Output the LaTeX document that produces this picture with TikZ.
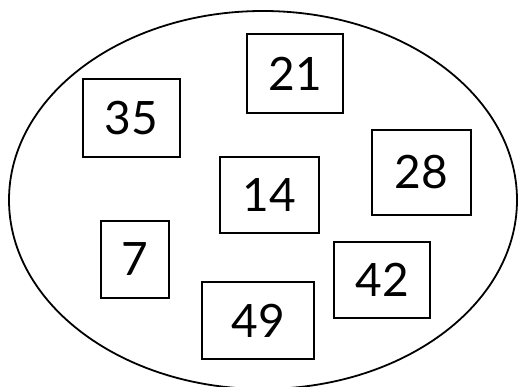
\documentclass[tikz,border=0pt]{standalone}
\usepackage{fontspec}
\setmainfont{Lato}
\usetikzlibrary{shapes.geometric}
\tikzset{every picture/.style={line width=1.2pt}}

\begin{document}
\begin{tikzpicture}[x=1pt,y=-1pt,
 numbox/.style={draw,inner sep=0pt,line width=1.2pt,
  font=\fontsize{46}{46}\selectfont}]
 \useasboundingbox (0,0) rectangle (518,387);

 % The set that holds all the multiples.
 \node[draw,ellipse,inner sep=0pt,line width=1.8pt,
  minimum width=508pt,minimum height=378pt] (set) at (263,200) {};

 % Multiples of seven, scattered inside it.
 \node[numbox,minimum width=97pt,minimum height=78pt] (n35) at (131.5,118) {35};
 \node[numbox,minimum width=96pt,minimum height=79pt] (n21) at (295,73.5) {21};
 \node[numbox,minimum width=99pt,minimum height=85pt] (n28) at (421.5,172.5) {28};
 \node[numbox,minimum width=99pt,minimum height=76pt] (n14) at (269.5,195) {14};
 \node[numbox,minimum width=68pt,minimum height=77pt] (n7) at (135,259.5) {7};
 \node[numbox,minimum width=96pt,minimum height=76pt] (n42) at (382,280) {42};
 \node[numbox,minimum width=112pt,minimum height=77pt] (n49) at (258,320.5) {49};
\end{tikzpicture}
\end{document}
